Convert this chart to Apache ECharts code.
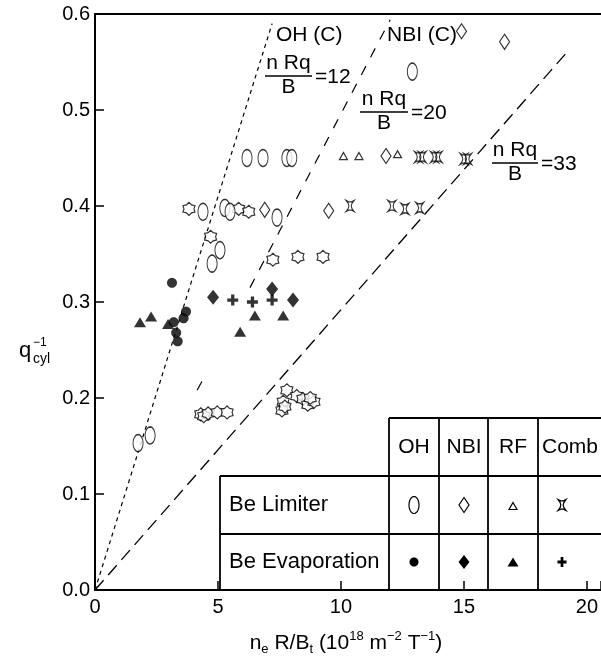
<!DOCTYPE html>
<html>
<head>
<meta charset="utf-8">
<script src="https://cdn.jsdelivr.net/npm/echarts@6/dist/echarts.min.js"></script>
<style>
  html, body { margin: 0; padding: 0; background: #fff; }
  #chart { width: 601px; height: 661px; }
</style>
</head>
<body>
<div id="chart"></div>
<script>
// Axis ticks
const xTickValues = [0, 5, 10, 15, 20];
const yTickValues = [0.0, 0.1, 0.2, 0.3, 0.4, 0.5, 0.6];

// Reference lines n R q / B = const (end points)
const lineOH12 = [[0, 0], [7.2, 0.59]];
const lineNBI20a = [[4.15, 0.208], [4.45, 0.222]];
const lineNBI20b = [[6.3, 0.315], [12.0, 0.594]];
const line33 = [[0, 0], [19.3, 0.5635]];

// Carbon-wall reference discharges
const carbonPoints = [
  [3.82, 0.397], [5.84, 0.397], [6.25, 0.394], [4.7, 0.368],
  [7.23, 0.344], [8.25, 0.347], [9.27, 0.347],
  [4.3, 0.183], [4.42, 0.181], [4.6, 0.184], [4.97, 0.185], [5.37, 0.185],
  [7.8, 0.208], [7.65, 0.196], [7.6, 0.187], [7.72, 0.191], [8.2, 0.202],
  [8.45, 0.199], [8.65, 0.193], [8.9, 0.196], [8.75, 0.2]
];

// Be limiter
const ohLimiter = [
  [1.75, 0.153], [2.24, 0.161], [4.39, 0.394], [5.28, 0.398], [5.49, 0.394],
  [7.4, 0.388], [4.76, 0.34], [5.08, 0.354], [6.18, 0.45], [6.83, 0.45],
  [7.8, 0.45], [8.0, 0.45], [12.9, 0.54]
];
const nbiLimiter = [[14.9, 0.582], [16.65, 0.571], [11.83, 0.452], [9.5, 0.395], [6.9, 0.396]];
const rfLimiter = [[10.1, 0.452], [10.73, 0.452], [12.3, 0.454]];
const combLimiter = [
  [13.15, 0.451], [13.3, 0.451], [13.8, 0.451], [13.95, 0.451], [15.0, 0.449], [15.15, 0.449],
  [10.37, 0.4], [12.07, 0.4], [12.6, 0.397], [13.2, 0.398]
];

// Be evaporation
const ohEvap = [[3.13, 0.32], [3.7, 0.29], [3.6, 0.283], [3.2, 0.279], [3.3, 0.268], [3.36, 0.259]];
const nbiEvap = [[4.8, 0.305], [7.2, 0.3135], [8.05, 0.302]];
const rfEvap = [[1.83, 0.279], [2.28, 0.285], [2.97, 0.277], [5.9, 0.269], [6.5, 0.286], [7.65, 0.286]];
const combEvap = [[5.6, 0.302], [6.4, 0.3], [7.2, 0.302]];

// Marker outlines as vertex lists in a unit box (-1..1)
function roundOutline(n) {
  const pts = [];
  for (let i = 0; i < n; i++) {
    const a = (i / n) * Math.PI * 2;
    pts.push([Math.cos(a), Math.sin(a)]);
  }
  return pts;
}
function starOutline(points, inner) {
  const pts = [];
  for (let i = 0; i < points * 2; i++) {
    const a = -Math.PI / 2 + (i * Math.PI) / points;
    const r = i % 2 ? inner : 1;
    pts.push([r * Math.cos(a), r * Math.sin(a)]);
  }
  return pts;
}
const OUTLINES = {
  ellipse: roundOutline(32),
  dot: roundOutline(32),
  diamond: [[0, -1], [1, 0], [0, 1], [-1, 0]],
  triangle: [[0, -1], [1, 1], [-1, 1]],
  comb: [[-1, -1], [-0.35, -0.75], [0.35, -0.75], [1, -1], [0.45, -0.45], [0.3, 0], [0.45, 0.45],
         [1, 1], [0.35, 0.75], [-0.35, 0.75], [-1, 1], [-0.45, 0.45], [-0.3, 0], [-0.45, -0.45]],
  plus: [[-0.3, -1], [0.3, -1], [0.3, -0.3], [1, -0.3], [1, 0.3], [0.3, 0.3], [0.3, 1], [-0.3, 1], [-0.3, 0.3], [-1, 0.3], [-1, -0.3], [-0.3, -0.3]],
  hexstar: starOutline(6, 0.72)
};
function outlinePath(name) {
  return 'path://' + OUTLINES[name].map((p, i) => (i ? 'L' : 'M') + p[0].toFixed(3) + ',' + p[1].toFixed(3)).join('') + 'Z';
}

const FONT = '"Liberation Sans", Arial, Helvetica, sans-serif';

function scatter(name, data, shape, size, open) {
  return {
    name, type: 'scatter', data,
    symbol: outlinePath(shape),
    symbolSize: size,
    itemStyle: open
      ? { color: '#fff', borderColor: '#000', borderWidth: 1.2 }
      : { color: '#000', borderWidth: 0 },
    silent: true, z: 5
  };
}

function refLine(name, data, dash, width) {
  return {
    name, type: 'line', data, symbol: 'none', silent: true, z: 3,
    lineStyle: { color: '#000', width, type: dash }
  };
}

// Fraction label "n Rq / B = k"
function fraction(x, yLine, w, k) {
  return {
    type: 'group', silent: true,
    children: [
      { type: 'text', x: x + w / 2, y: yLine - 2, style: { text: 'n Rq', font: '21px ' + FONT, fill: '#000', align: 'center', verticalAlign: 'bottom' } },
      { type: 'line', shape: { x1: x, y1: yLine, x2: x + w, y2: yLine }, style: { stroke: '#000', lineWidth: 1.5 } },
      { type: 'text', x: x + w / 2, y: yLine + 1, style: { text: 'B', font: '21px ' + FONT, fill: '#000', align: 'center', verticalAlign: 'top' } },
      { type: 'text', x: x + w + 3, y: yLine + 1, style: { text: '=' + k, font: '21px ' + FONT, fill: '#000', align: 'left', verticalAlign: 'middle' } }
    ]
  };
}

// Table marker drawn as a polygon in pixel space
function mark(shape, cx, cy, w, h, open) {
  return {
    type: 'polygon',
    shape: { points: OUTLINES[shape].map(p => [cx + p[0] * w / 2, cy + p[1] * h / 2]) },
    style: open ? { fill: '#fff', stroke: '#000', lineWidth: 1.2 } : { fill: '#000', stroke: null }
  };
}

function hline(x1, x2, y) {
  return { type: 'line', shape: { x1, y1: y, x2, y2: y }, style: { stroke: '#000', lineWidth: 1.8 } };
}
function vline(x, y1, y2) {
  return { type: 'line', shape: { x1: x, y1, x2: x, y2 }, style: { stroke: '#000', lineWidth: 1.8 } };
}
function cellText(t, x, y, align, size) {
  return { type: 'text', x, y, style: { text: t, font: (size || 21) + 'px ' + FONT, fill: '#000', align: align || 'center', verticalAlign: 'middle' } };
}

const legendTable = {
  type: 'group', z: 50, silent: true,
  children: [
    { type: 'rect', shape: { x: 220, y: 476, width: 381, height: 114 }, style: { fill: '#fff' } },
    { type: 'rect', shape: { x: 389, y: 418, width: 212, height: 58 }, style: { fill: '#fff' } },
    hline(389, 601, 418), hline(220, 601, 476), hline(220, 601, 534),
    vline(220, 476, 591), vline(389, 418, 590), vline(439, 418, 590),
    vline(488, 418, 590), vline(538, 418, 590),
    cellText('OH', 414, 447), cellText('NBI', 464, 447), cellText('RF', 513, 447), cellText('Comb', 570, 447),
    cellText('Be Limiter', 229, 505, 'left', 22), cellText('Be Evaporation', 229, 562, 'left', 22),
    mark('ellipse', 414, 505, 10, 17, true), mark('diamond', 464, 505, 10, 15, true),
    mark('triangle', 513, 506, 8, 7, true), mark('comb', 562, 505, 8, 11, true),
    mark('dot', 414, 562, 9, 9, false), mark('diamond', 464, 562, 11, 14, false),
    mark('triangle', 513, 562, 11, 9, false), mark('plus', 562, 562, 9, 10, false)
  ]
};

const chart = echarts.init(document.getElementById('chart'), null, { renderer: 'canvas' });

chart.setOption({
  animation: false,
  backgroundColor: '#fff',
  grid: { left: 95, right: 0, top: 14, bottom: 71, outerBoundsMode: 'none' },
  xAxis: [
    {
      type: 'value', min: 0, max: 20.57, interval: 5,
      axisLine: { onZero: false, lineStyle: { color: '#000', width: 2 } },
      axisTick: { inside: true, length: 9, lineStyle: { color: '#000', width: 1.5 } },
      axisLabel: {
        color: '#000', fontSize: 20, fontFamily: FONT, margin: 7,
        formatter: v => (xTickValues.indexOf(v) >= 0 ? String(v) : '')
      },
      splitLine: { show: false }
    },
    {
      type: 'value', position: 'top', min: 0, max: 20.57,
      axisLine: { show: true, onZero: false, lineStyle: { color: '#000', width: 2 } },
      axisTick: { show: false }, axisLabel: { show: false }, splitLine: { show: false }
    }
  ],
  yAxis: {
    type: 'value', min: 0, max: 0.6, interval: 0.1,
    axisLine: { show: true, onZero: false, lineStyle: { color: '#000', width: 2 } },
    axisTick: { inside: true, length: 9, lineStyle: { color: '#000', width: 1.5 } },
    axisLabel: {
      color: '#000', fontSize: 20, fontFamily: FONT, margin: 5,
      formatter: v => (yTickValues.some(t => Math.abs(t - v) < 1e-9) ? v.toFixed(1) : '')
    },
    splitLine: { show: false }
  },
  series: [
    refLine('nRqB12', lineOH12, [4, 4], 1.2),
    refLine('nRqB20a', lineNBI20a, [10, 10], 1.2),
    refLine('nRqB20b', lineNBI20b, [10, 10], 1.2),
    refLine('nRqB33', line33, [13, 7], 1.3),
    scatter('C', carbonPoints, 'hexstar', [12, 13], true),
    scatter('OH Be limiter', ohLimiter, 'ellipse', [10, 17], true),
    scatter('NBI Be limiter', nbiLimiter, 'diamond', [10, 15], true),
    scatter('RF Be limiter', rfLimiter, 'triangle', [8, 7], true),
    scatter('Comb Be limiter', combLimiter, 'comb', [8, 11], true),
    scatter('OH Be evaporation', ohEvap, 'dot', [10, 10], false),
    scatter('NBI Be evaporation', nbiEvap, 'diamond', [12, 15], false),
    scatter('RF Be evaporation', rfEvap, 'triangle', [12, 10], false),
    scatter('Comb Be evaporation', combEvap, 'plus', [11, 11], false)
  ],
  graphic: [
    { type: 'text', x: 276, y: 35, style: { text: 'OH (C)', font: '21px ' + FONT, fill: '#000', verticalAlign: 'middle' } },
    { type: 'text', x: 387, y: 35, style: { text: 'NBI (C)', font: '21px ' + FONT, fill: '#000', verticalAlign: 'middle' } },
    fraction(265, 76, 47, 12),
    fraction(360, 112, 48, 20),
    fraction(492, 163, 46, 33),
    // y-axis title
    { type: 'text', x: 19, y: 351, style: { text: 'q', font: '22px ' + FONT, fill: '#000', verticalAlign: 'middle' } },
    { type: 'text', x: 33, y: 343, style: { text: '\u22121', font: '12px ' + FONT, fill: '#000', verticalAlign: 'middle' } },
    { type: 'text', x: 33, y: 359, style: { text: 'cyl', font: '14px ' + FONT, fill: '#000', verticalAlign: 'middle' } },
    // x-axis title
    {
      type: 'text', x: 346, y: 643,
      style: {
        text: '{m|n}{sb|e}{m| R/B}{sb|t}{m| (10}{sp|18}{m| m}{sp|\u22122}{m| T}{sp|\u22121}{m|)}',
        align: 'center', verticalAlign: 'middle', fill: '#000',
        rich: {
          m: { fontSize: 21, fontFamily: FONT, lineHeight: 26, fill: '#000' },
          sp: { fontSize: 13, fontFamily: FONT, lineHeight: 13, verticalAlign: 'top', fill: '#000' },
          sb: { fontSize: 13, fontFamily: FONT, lineHeight: 13, verticalAlign: 'bottom', fill: '#000' }
        }
      }
    },
    legendTable
  ]
});
</script>
</body>
</html>
